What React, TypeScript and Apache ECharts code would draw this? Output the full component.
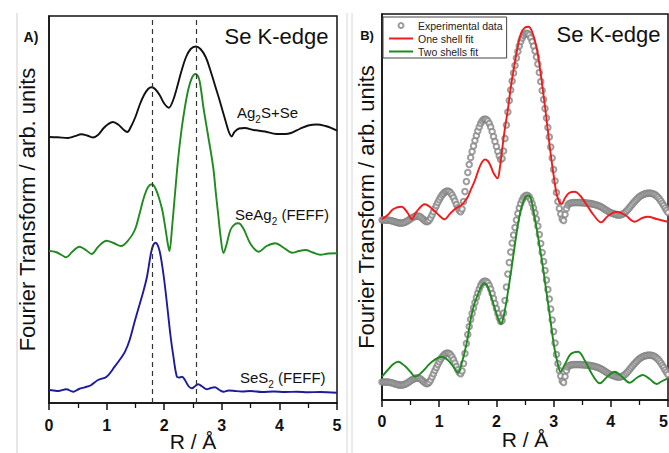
import React, { useEffect, useRef } from 'react';
import * as echarts from 'echarts';

const FONT = "'Liberation Sans', Arial, Helvetica, sans-serif";

// ---------- Panel A (FEFF references and sample), values relative to each curve's baseline ----------
const AG2S_SE: [number, number][] = [
  [0, 0], [0.15, -0.3], [0.33, -1], [0.45, 0.8], [0.56, 2.7], [0.66, 1.5], [0.76, -0.5], [0.85, 2], [0.95, 9],
  [1.03, 13], [1.11, 15], [1.2, 12.5], [1.3, 7], [1.36, 5], [1.42, 10], [1.5, 20], [1.58, 33], [1.65, 42],
  [1.72, 48], [1.78, 49.7], [1.85, 47.5], [1.93, 41], [2.0, 33.5], [2.08, 29.3], [2.15, 36], [2.22, 49],
  [2.3, 66], [2.38, 80], [2.46, 88], [2.55, 90.5], [2.63, 88], [2.72, 80], [2.8, 67], [2.88, 52], [2.95, 39],
  [3.02, 25], [3.08, 13], [3.13, 4], [3.17, 0.5], [3.22, 5], [3.3, 8.5], [3.4, 9], [3.55, 7], [3.75, 5.5],
  [3.95, 3], [4.1, 3], [4.2, 4], [4.35, 8], [4.5, 11.5], [4.65, 12.5], [4.8, 11], [4.92, 8.5], [5, 6.3],
];
const SEAG2_FEFF: [number, number][] = [
  [0, 2], [0.12, 1], [0.22, -2], [0.3, -4.3], [0.4, 1], [0.53, 6.3], [0.65, 2.5], [0.74, -1], [0.85, 6],
  [1.0, 12.3], [1.12, 10], [1.25, 7], [1.38, 13], [1.49, 23], [1.58, 41], [1.65, 56], [1.72, 66], [1.79, 68.7],
  [1.86, 63], [1.92, 53], [1.97, 42], [2.02, 25], [2.06, 10], [2.09, 2], [2.14, 28], [2.19, 61], [2.24, 93],
  [2.3, 123], [2.36, 146], [2.42, 164], [2.48, 175], [2.54, 179], [2.6, 175], [2.64, 163], [2.68, 146],
  [2.76, 118], [2.85, 86], [2.9, 58], [2.94, 37], [2.98, 16], [3.03, 0], [3.08, 8], [3.15, 23], [3.22, 28.5],
  [3.29, 29.7], [3.37, 25], [3.5, 9], [3.64, 1.3], [3.78, 7], [3.93, 9.7], [4.08, 5], [4.22, 0.3], [4.34, 2],
  [4.45, 3], [4.58, 0.5], [4.71, -1.7], [4.85, -0.5], [5, -0.3],
];
const SES2_FEFF: [number, number][] = [
  [0, 1], [0.08, 0.5], [0.16, 0], [0.3, 1.7], [0.42, -0.7], [0.52, 2], [0.62, 3.7], [0.72, 5.5], [0.85, 11],
  [1.0, 14.3], [1.14, 24.3], [1.25, 33], [1.32, 39.3], [1.4, 51], [1.49, 70], [1.57, 86], [1.64, 100],
  [1.7, 114], [1.77, 137.7], [1.81, 146], [1.85, 148.3], [1.9, 144], [1.94, 134.3], [2.0, 111], [2.06, 81],
  [2.11, 55], [2.16, 34.3], [2.22, 14.3], [2.26, 13.5], [2.31, 14.3], [2.36, 11], [2.42, 5], [2.48, 2.7],
  [2.54, 5], [2.59, 6.7], [2.66, 4.5], [2.74, 1.7], [2.81, 3], [2.88, 3.7], [2.96, 1], [3.03, -0.7],
  [3.12, 0.5], [3.2, 0.3], [3.35, -0.5], [3.5, 0], [3.7, -1], [3.9, -0.5], [4.1, -1], [4.3, -0.8], [4.5, -1.3],
  [4.7, -1], [5, -1.7],
];
const OFFSET_AG2S_SE = 266;
const OFFSET_SEAG2 = 150;
const OFFSET_SES2 = 12;
const DASHED_R = [1.79, 2.55];

// ---------- Panel B (experimental data and fits) ----------
const EXP_R_STEP = 0.025;
const EXP_FT: number[] = [
  0, 0, 0, 0, 0, -0.3, -0.5, -0.8, -1.2, -1.7, -2.2, -2.6, -2.9, -3, -3, -2.8, -2.3, -1.6, -0.7, 0.3,
  1.3, 2.2, 3, 3.6, 3.9, 4, 3.7, 3, 1.8, 0.4, -0.8, -1.6, -1.4, -0.2, 2, 5, 8.2, 11.4, 14.5, 17.5,
  20.3, 22.8, 24.9, 26.6, 27.9, 28.7, 28.9, 28.4, 27.1, 25, 22.2, 19, 15.5, 12.2, 9.5, 8.2, 11, 18.5, 28.5, 38.5,
  47.5, 55.5, 62.5, 68.5, 74, 79.5, 84.5, 89, 93, 96.5, 99, 100.5, 101, 100.5, 99, 96.5, 93, 88.5, 83.5, 78.5,
  73.5, 68.5, 64, 60.5, 61.5, 69, 81.5, 95, 108, 119.5, 130, 139, 147, 154.5, 162, 168.5, 174, 178.5, 182, 184.5,
  186, 186.8, 186.5, 185, 182.2, 178.5, 174, 169, 163, 156, 147.5, 138.5, 129.5, 120.5, 111.5, 102, 92.5, 83, 73, 62,
  50.5, 39, 27.5, 18.5, 11.5, 6, 1, -0.5, 5.5, 11.5, 15, 16.5, 17, 17.3, 17.5, 17.5, 17.5, 17.5, 17.5, 17.4,
  17.3, 17.2, 17.1, 17, 16.8, 16.6, 16.4, 16.1, 15.8, 15.4, 15, 14.5, 13.9, 13.2, 12.4, 11.5, 10.6, 9.7, 8.8, 8,
  7.3, 6.7, 6.2, 5.7, 5.3, 5, 5, 5.2, 5.7, 6.5, 7.6, 9, 10.5, 12.2, 14, 15.8, 17.5, 19.1, 20.6, 22,
  23.2, 24.2, 25.1, 25.8, 26.3, 26.6, 26.8, 26.9, 26.8, 26.5, 26, 25.2, 24.1, 22.7, 21, 19, 16.8, 14.4, 12, 9.7,
  7.5,
];
const ONE_SHELL_FIT: [number, number][] = [
  [0, 0.7], [0.1, 5], [0.2, 11], [0.34, 13.3], [0.45, 7], [0.52, 0.7], [0.6, 8], [0.75, 15.7], [0.9, 10],
  [1.0, 4.5], [1.09, 0.7], [1.2, 7], [1.3, 12], [1.39, 15], [1.45, 19], [1.5, 23], [1.55, 30], [1.62, 39],
  [1.7, 52], [1.75, 58], [1.8, 60.5], [1.85, 59], [1.9, 54], [1.95, 47], [2.02, 41.7], [2.06, 52], [2.1, 70],
  [2.15, 92], [2.2, 110], [2.25, 132], [2.32, 156.7], [2.38, 175], [2.43, 186.7], [2.5, 192.5], [2.56, 193.3],
  [2.62, 189], [2.7, 173.3], [2.76, 152], [2.82, 126.7], [2.88, 99], [2.94, 70], [3.0, 45], [3.05, 26.7],
  [3.1, 18], [3.14, 16], [3.2, 22], [3.27, 27], [3.37, 28.3], [3.47, 24], [3.58, 15], [3.7, 5], [3.83, -2.3],
  [3.95, 4], [4.1, 8.3], [4.25, 5], [4.42, -1.7], [4.55, 2], [4.65, 3.3], [4.8, 1], [5, -1.7],
];
const TWO_SHELLS_FIT: [number, number][] = [
  [0, 5.3], [0.1, 12], [0.2, 18], [0.28, 20.3], [0.4, 16], [0.5, 10], [0.58, 5.3], [0.7, 10], [0.85, 19],
  [1.04, 25.3], [1.15, 22], [1.25, 15], [1.33, 9.3], [1.4, 20], [1.48, 38.7], [1.56, 65.3], [1.62, 79],
  [1.68, 88], [1.74, 96], [1.79, 98.7], [1.85, 95], [1.91, 85.3], [1.96, 76], [2.0, 68.7], [2.04, 62],
  [2.08, 58], [2.12, 64], [2.17, 78.7], [2.22, 97], [2.26, 112], [2.32, 136], [2.38, 158.7], [2.44, 175],
  [2.5, 184], [2.55, 186.5], [2.6, 184], [2.67, 164], [2.72, 148], [2.76, 134], [2.8, 120], [2.85, 100],
  [2.9, 80], [2.94, 64], [2.98, 47], [3.02, 32], [3.07, 19], [3.12, 10.3], [3.2, 18], [3.3, 28], [3.43, 30.3],
  [3.55, 21], [3.68, 7], [3.81, -1.3], [3.95, 6], [4.07, 10.3], [4.2, 5], [4.33, -0.7], [4.45, 4], [4.56, 7],
  [4.68, 3], [4.8, -2], [4.9, 1], [5, 3.7],
];
const OFFSET_UPPER = 180;
const OFFSET_LOWER = 18;

const R_MIN = 0;
const R_MAX = 5;

const LEGEND_NAMES = ['Experimental data', 'One shell fit', 'Two shells fit'];
const LINE_ICON = 'path://M0 0 H24 V2 H0 Z';

const shift = (pts: [number, number][], off: number) => pts.map(([x, y]) => [x, y + off]);
const expPoints = (off: number) => EXP_FT.map((v, i) => [+(i * EXP_R_STEP).toFixed(3), v + off]);

function xAxisFor(gridIndex: number, labelMargin: number, nameGap: number, alignMax: string) {
  return {
    type: 'value',
    gridIndex,
    min: R_MIN,
    max: R_MAX,
    interval: 1,
    name: 'R / Å',
    nameLocation: 'middle',
    nameGap,
    nameMoveOverlap: false,
    nameTextStyle: { fontSize: 21, color: '#111', fontFamily: FONT },
    axisLine: { show: true, onZero: false, lineStyle: { color: '#111', width: 1.5 } },
    axisTick: { show: true, inside: false, length: 7, lineStyle: { color: '#111', width: 1.5 } },
    minorTick: { show: true, splitNumber: 2, length: 5, lineStyle: { color: '#111', width: 1.3 } },
    axisLabel: {
      show: true, fontSize: 16, fontWeight: 'bold', color: '#111', fontFamily: FONT, margin: labelMargin,
      showMinLabel: true, showMaxLabel: true, hideOverlap: false, alignMaxLabel: alignMax,
    },
    splitLine: { show: false },
    minorSplitLine: { show: false },
  };
}

function yAxisFor(gridIndex: number, max: number, nameGap: number) {
  return {
    type: 'value',
    gridIndex,
    min: 0,
    max,
    name: 'Fourier Transform / arb. units',
    nameLocation: 'middle',
    nameGap,
    nameMoveOverlap: false,
    nameTextStyle: { fontSize: 22, color: '#111', fontFamily: FONT },
    axisLine: { show: true, onZero: false, lineStyle: { color: '#111', width: 1.5 } },
    axisTick: { show: false },
    axisLabel: { show: false },
    splitLine: { show: false },
  };
}

function lineSeries(name: string, data: number[][], color: string, axis: number, extra: any = {}) {
  return {
    type: 'line',
    name,
    xAxisIndex: axis,
    yAxisIndex: axis,
    data,
    symbol: 'none',
    showSymbol: false,
    smooth: 0.35,
    lineStyle: { color, width: 1.9 },
    itemStyle: { color },
    z: 3,
    ...extra,
  };
}

function expSeries(off: number) {
  return {
    type: 'scatter',
    name: LEGEND_NAMES[0],
    xAxisIndex: 1,
    yAxisIndex: 1,
    data: expPoints(off),
    symbol: 'emptyCircle',
    symbolSize: 5.5,
    itemStyle: { color: '#858585', borderColor: '#858585', borderWidth: 0.9 },
    z: 2,
  };
}

function subLabel(x: number, y: number, parts: string) {
  return {
    type: 'text',
    x,
    y,
    style: {
      text: parts,
      align: 'left',
      verticalAlign: 'middle',
      rich: {
        n: { fontSize: 15, fontFamily: FONT, fill: '#111', lineHeight: 24 },
        s: { fontSize: 10, fontFamily: FONT, fill: '#111', lineHeight: 10, verticalAlign: 'bottom' },
      },
    },
    z: 10,
  };
}

export default function App() {
  const ref = useRef<HTMLDivElement>(null);

  useEffect(() => {
    if (!ref.current) return;
    const chart = echarts.init(ref.current, undefined, { renderer: 'svg' });

    const option: any = {
      animation: false,
      backgroundColor: '#ffffff',
      textStyle: { fontFamily: FONT },
      grid: [
        { left: 49, top: 16, width: 288, height: 387, show: true, borderColor: '#111', borderWidth: 1.5, backgroundColor: 'transparent', containLabel: false, outerBoundsMode: 'none' },
        { left: 382, top: 14, width: 286, height: 386, show: true, borderColor: '#111', borderWidth: 1.5, backgroundColor: 'transparent', containLabel: false, outerBoundsMode: 'none' },
      ],
      xAxis: [xAxisFor(0, 14, 28, 'center'), xAxisFor(1, 13, 29, 'right')],
      yAxis: [yAxisFor(0, 387, 11), yAxisFor(1, 386, 5)],
      legend: {
        show: true,
        orient: 'vertical',
        left: 383,
        top: 17,
        itemWidth: 24,
        itemHeight: 5,
        itemGap: 2,
        padding: [3, 4, 1, 6],
        borderColor: '#444',
        borderWidth: 1,
        backgroundColor: '#fff',
        selectedMode: false,
        textStyle: { fontSize: 10.5, color: '#222', fontFamily: FONT, lineHeight: 11 },
        data: [
          { name: LEGEND_NAMES[0], icon: 'emptyCircle' },
          { name: LEGEND_NAMES[1], icon: LINE_ICON },
          { name: LEGEND_NAMES[2], icon: LINE_ICON },
        ],
      },
      series: [
        lineSeries('Ag2S+Se', shift(AG2S_SE, OFFSET_AG2S_SE), '#111111', 0, {
          markLine: {
            silent: true,
            symbol: ['none', 'none'],
            label: { show: false },
            lineStyle: { type: [5, 4], color: '#333', width: 1.2 },
            data: DASHED_R.map((r) => ({ xAxis: r })),
          },
        }),
        lineSeries('SeAg2 (FEFF)', shift(SEAG2_FEFF, OFFSET_SEAG2), '#1f8a1f', 0),
        lineSeries('SeS2 (FEFF)', shift(SES2_FEFF, OFFSET_SES2), '#1c1c9a', 0),
        expSeries(OFFSET_UPPER),
        expSeries(OFFSET_LOWER),
        lineSeries(LEGEND_NAMES[1], shift(ONE_SHELL_FIT, OFFSET_UPPER), '#ee1d1d', 1),
        lineSeries(LEGEND_NAMES[2], shift(TWO_SHELLS_FIT, OFFSET_LOWER), '#1f8a1f', 1),
      ],
      graphic: [
        { type: 'line', shape: { x1: 17, y1: 13, x2: 17, y2: 453 }, style: { stroke: '#cfcfcf', lineWidth: 1 }, silent: true },
        { type: 'line', shape: { x1: 347, y1: 13, x2: 347, y2: 453 }, style: { stroke: '#d6d6d6', lineWidth: 1 }, silent: true },
        { type: 'line', shape: { x1: 352, y1: 13, x2: 352, y2: 453 }, style: { stroke: '#d6d6d6', lineWidth: 1 }, silent: true },
        { type: 'text', x: 31, y: 37, style: { text: 'A)', fontSize: 14, fontWeight: 'bold', fontFamily: FONT, fill: '#111', align: 'center', verticalAlign: 'middle' } },
        { type: 'text', x: 367, y: 35, style: { text: 'B)', fontSize: 13, fontWeight: 'bold', fontFamily: FONT, fill: '#111', align: 'center', verticalAlign: 'middle' } },
        { type: 'text', x: 276.5, y: 36, style: { text: 'Se K-edge', fontSize: 22, fontFamily: FONT, fill: '#111', align: 'center', verticalAlign: 'middle' } },
        { type: 'text', x: 608.5, y: 34, style: { text: 'Se K-edge', fontSize: 22, fontFamily: FONT, fill: '#111', align: 'center', verticalAlign: 'middle' } },
        subLabel(237, 112.5, '{n|Ag}{s|2}{n|S+Se}'),
        subLabel(235, 214, '{n|SeAg}{s|2}{n| (FEFF)}'),
        subLabel(240, 377.5, '{n|SeS}{s|2}{n| (FEFF)}'),
      ],
    };

    chart.setOption(option);
    return () => chart.dispose();
  }, []);

  return (
    <div
      ref={ref}
      style={{ position: 'fixed', left: 0, top: 0, width: 669, height: 453, background: '#fff' }}
    />
  );
}
